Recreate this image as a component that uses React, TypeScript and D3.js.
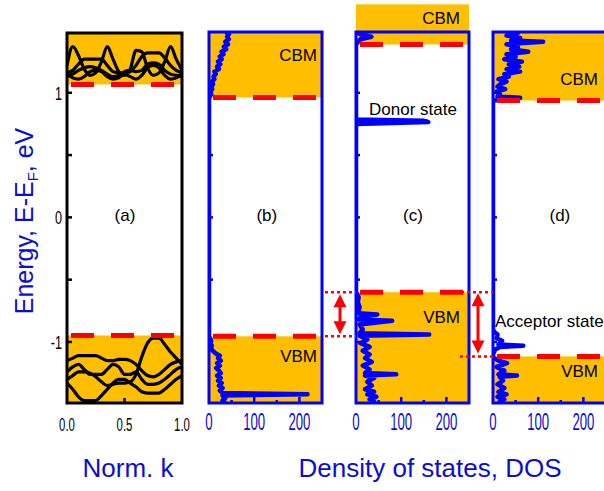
import React from 'react';
import * as d3 from 'd3';

// k samples for the band structure panel (a)
const kPoints = [0, 0.05, 0.1, 0.15, 0.2, 0.25, 0.3, 0.35, 0.4, 0.45, 0.5, 0.55, 0.6, 0.65, 0.7, 0.75, 0.8, 0.85, 0.9, 0.95, 1];

// conduction bands, eV
const condBand1 = [1.22, 1.37, 1.30, 1.19, 1.14, 1.16, 1.25, 1.37, 1.27, 1.17, 1.14, 1.19, 1.34, 1.33, 1.20, 1.14, 1.16, 1.25, 1.37, 1.27, 1.18];
const condBand2 = [1.16, 1.18, 1.23, 1.27, 1.27, 1.27, 1.27, 1.22, 1.17, 1.16, 1.16, 1.17, 1.22, 1.29, 1.32, 1.32, 1.32, 1.28, 1.22, 1.18, 1.16];
const condBand3 = [1.15, 1.12, 1.11, 1.13, 1.17, 1.18, 1.17, 1.13, 1.11, 1.12, 1.15, 1.13, 1.11, 1.14, 1.20, 1.22, 1.20, 1.14, 1.11, 1.12, 1.15];
const condBand4 = [1.13, 1.15, 1.18, 1.20, 1.21, 1.20, 1.18, 1.15, 1.13, 1.14, 1.17, 1.18, 1.17, 1.18, 1.23, 1.24, 1.23, 1.18, 1.15, 1.14, 1.13];

// valence bands, eV
const valBand1 = [-1.15, -1.13, -1.11, -1.11, -1.11, -1.11, -1.13, -1.15, -1.15, -1.14, -1.14, -1.15, -1.18, -1.23, -1.27, -1.28, -1.26, -1.22, -1.18, -1.16, -1.15];
const valBand2 = [-1.30, -1.27, -1.24, -1.24, -1.25, -1.28, -1.32, -1.35, -1.34, -1.33, -1.33, -1.32, -1.26, -1.12, -1.01, -0.97, -0.97, -1.02, -1.08, -1.13, -1.18];
const valBand3 = [-1.24, -1.20, -1.18, -1.22, -1.26, -1.26, -1.26, -1.22, -1.18, -1.20, -1.26, -1.26, -1.24, -1.30, -1.34, -1.34, -1.33, -1.30, -1.26, -1.22, -1.20];
const valBand4 = [-1.33, -1.38, -1.44, -1.47, -1.47, -1.47, -1.43, -1.38, -1.33, -1.30, -1.30, -1.33, -1.36, -1.40, -1.41, -1.41, -1.41, -1.38, -1.34, -1.30, -1.27];

// DOS (b)
const dosBEnergy = [-1.48, -1.47, -1.45, -1.43, -1.42, -1.41, -1.39, -1.37, -1.35, -1.33, -1.31, -1.29, -1.27, -1.25, -1.23, -1.21, -1.19, -1.17, -1.15, -1.13, -1.11, -1.09, -1.07, -1.05, -1.03, -1.01, -0.99, -0.97, -0.95,
  0.95, 0.97, 0.99, 1.01, 1.03, 1.05, 1.07, 1.09, 1.11, 1.13, 1.15, 1.17, 1.19, 1.21, 1.23, 1.25, 1.27, 1.29, 1.31, 1.33, 1.35, 1.37, 1.39, 1.41, 1.43, 1.45, 1.47, 1.48];
const dosBValue = [34, 30, 36, 30, 218, 30, 24, 30, 22, 28, 20, 26, 18, 26, 22, 16, 24, 18, 26, 20, 24, 14, 8, 4, 6, 3, 5, 2, 0,
  0, 2, 5, 3, 7, 5, 9, 7, 12, 10, 15, 12, 22, 18, 25, 20, 28, 24, 32, 28, 38, 33, 42, 36, 44, 40, 44, 40];

// DOS (c)
const dosCEnergy = [-1.48, -1.46, -1.44, -1.42, -1.40, -1.38, -1.35, -1.32, -1.29, -1.27, -1.26, -1.25, -1.22, -1.19, -1.16, -1.13, -1.10, -1.07, -1.04, -1.01, -0.98, -0.95, -0.94, -0.93, -0.90, -0.86, -0.83, -0.82, -0.80, -0.78, -0.77, -0.72, -0.68, -0.64, -0.61, -0.60,
  0.75, 0.765, 0.775, 0.785, 1.39, 1.41, 1.43, 1.45, 1.47, 1.48];
const dosCValue = [40, 30, 45, 25, 40, 20, 35, 25, 40, 20, 89, 20, 30, 15, 35, 20, 30, 15, 30, 10, 25, 8, 162, 8, 15, 8, 80, 6, 10, 47, 5, 8, 4, 6, 2, 0,
  0, 160, 150, 0, 0, 5, 10, 34, 10, 5];

// DOS (d)
const dosDEnergy = [-1.48, -1.46, -1.44, -1.42, -1.40, -1.37, -1.34, -1.31, -1.28, -1.27, -1.26, -1.23, -1.20, -1.17, -1.15, -1.13, -1.12,
  -1.10, -1.06, -1.04, -1.03, -1.02, -0.99, -0.97, -0.94, -0.92, -0.90,
  0.93, 0.94, 0.96, 0.97, 0.99, 1.01, 1.03, 1.05, 1.07, 1.09, 1.11, 1.13, 1.15, 1.17, 1.19, 1.21, 1.23, 1.25, 1.27, 1.29, 1.31, 1.33, 1.35, 1.37, 1.39, 1.41, 1.42, 1.44, 1.46, 1.48];
const dosDValue = [15, 25, 10, 30, 12, 25, 10, 22, 15, 53, 12, 25, 8, 31, 12, 3, 0,
  0, 5, 15, 67, 12, 20, 8, 10, 3, 0,
  0, 5, 60, 10, 15, 8, 27, 10, 16, 30, 12, 35, 25, 60, 30, 58, 35, 64, 25, 50, 30, 78, 40, 55, 30, 111, 40, 60, 30, 55];

// band edges per panel (a, b, c, d), eV
const cbmLevels = [1.067, 0.962, 1.388, 0.938];
const vbmLevels = [-0.948, -0.955, -0.601, -1.116];
const cbFillTop = [1.48, 1.48, 1.71, 1.48];
const panelNames = ['(a)', '(b)', '(c)', '(d)'];

const energyTicks = [-1, -0.5, 0, 0.5, 1];
const energyTickLabels = ['-1', '', '0', '', '1'];
const kTicks = [0, 0.5, 1];
const kTickLabels = ['0.0', '0.5', '1.0'];
const dosTicks = [0, 100, 200];
const dosMinorTicks = [50, 150];

const BLUE = '#0000ff';
const TEXT_BLUE = '#0c0cd2';
const ORANGE = '#ffbf00';
const RED = '#ff0000';
const FONT = '"Liberation Sans", Arial, sans-serif';

const TOP = 33;
const BOTTOM = 403;
const y = d3.scaleLinear().domain([-1.49, 1.48]).range([BOTTOM, TOP]);

function Fills({ i, x0, x1 }: { i: number; x0: number; x1: number }) {
  return (
    <g>
      <rect x={x0} y={y(cbFillTop[i])} width={x1 - x0} height={y(cbmLevels[i]) - y(cbFillTop[i])} fill={ORANGE} />
      <rect x={x0} y={y(vbmLevels[i])} width={x1 - x0} height={BOTTOM - y(vbmLevels[i])} fill={ORANGE} />
    </g>
  );
}

function Dashes({ i, x0, x1 }: { i: number; x0: number; x1: number }) {
  return (
    <g stroke={RED} strokeWidth={5} strokeDasharray="23,17">
      <line x1={x0 + 4} x2={x1} y1={y(cbmLevels[i])} y2={y(cbmLevels[i])} />
      <line x1={x0 + 4} x2={x1} y1={y(vbmLevels[i])} y2={y(vbmLevels[i])} />
    </g>
  );
}

function BandPanel() {
  const x = d3.scaleLinear().domain([0, 1]).range([67, 182]);
  const line = d3.line<number>().x((_, j) => x(kPoints[j])).y(d => y(d)).curve(d3.curveMonotoneX);
  const bands = [condBand1, condBand2, condBand3, condBand4, valBand1, valBand2, valBand3, valBand4];
  return (
    <g>
      <clipPath id="clipA"><rect x={67} y={TOP} width={115} height={BOTTOM - TOP} /></clipPath>
      <Fills i={0} x0={67} x1={182} />
      <g clipPath="url(#clipA)">
        {bands.map((b, j) => (
          <path key={j} d={line(b) || ''} fill="none" stroke="#000" strokeWidth={3.2} />
        ))}
      </g>
      <Dashes i={0} x0={67} x1={182} />
      <rect x={67} y={TOP} width={115} height={BOTTOM - TOP} fill="none" stroke="#000" strokeWidth={3} />
      {energyTicks.map((t, j) => (
        <g key={j}>
          <line x1={67} x2={72} y1={y(t)} y2={y(t)} stroke="#000" strokeWidth={2.5} />
          {energyTickLabels[j] && (
            <text transform={`translate(62,${y(t) + 7}) scale(0.7,1)`} textAnchor="end" fontSize={18} fontFamily={FONT}>{energyTickLabels[j]}</text>
          )}
        </g>
      ))}
      {kTicks.map((t, j) => (
        <g key={j}>
          {t > 0 && t < 1 && <line x1={x(t)} x2={x(t)} y1={BOTTOM} y2={BOTTOM - 5} stroke="#000" strokeWidth={2.5} />}
          <text transform={`translate(${x(t)},431) scale(0.6,1)`} textAnchor="middle" fontSize={19} fontFamily={FONT}>{kTickLabels[j]}</text>
        </g>
      ))}
      <text x={125} y={221} textAnchor="middle" fontSize={17} fontFamily={FONT}>{panelNames[0]}</text>
    </g>
  );
}

function DosPanel({ i, left, energy, value, labelDos }: { i: number; left: number; energy: number[]; value: number[]; labelDos: number }) {
  const x = d3.scaleLinear().domain([0, 250]).range([left, left + 113]);
  const right = x(250);
  const line = d3.line<number>().x(d => x(d)).y((_, j) => y(energy[j]));
  const id = `clipDos${i}`;
  return (
    <g>
      <clipPath id={id}><rect x={left} y={TOP} width={113} height={BOTTOM - TOP} /></clipPath>
      <Fills i={i} x0={left} x1={right} />
      <g clipPath={`url(#${id})`}>
        <path d={line(value) || ''} fill="none" stroke={BLUE} strokeWidth={4.5} strokeLinejoin="round" strokeLinecap="round" />
      </g>
      <Dashes i={i} x0={left} x1={right} />
      <rect x={left} y={TOP - 1} width={113} height={BOTTOM - TOP + 1} fill="none" stroke={BLUE} strokeWidth={3} />
      {energyTicks.map((t, j) => (
        <line key={j} x1={left} x2={left + 4} y1={y(t)} y2={y(t)} stroke={BLUE} strokeWidth={2.5} />
      ))}
      {dosTicks.map(t => (
        <g key={t}>
          {t > 0 && <line x1={x(t)} x2={x(t)} y1={BOTTOM} y2={BOTTOM - 6} stroke={BLUE} strokeWidth={2.5} />}
          <text transform={`translate(${x(t)},430) scale(0.55,1)`} textAnchor="middle" fontSize={24} fill={TEXT_BLUE} fontFamily={FONT}>{t}</text>
        </g>
      ))}
      {dosMinorTicks.map(t => (
        <line key={t} x1={x(t)} x2={x(t)} y1={BOTTOM} y2={BOTTOM - 3} stroke={BLUE} strokeWidth={2.5} />
      ))}
      <text x={x(labelDos)} y={221} textAnchor="middle" fontSize={17} fontFamily={FONT}>{panelNames[i]}</text>
    </g>
  );
}

function Arrow({ x, y1, y2 }: { x: number; y1: number; y2: number }) {
  const h = 13;
  const w = 6.5;
  return (
    <g fill={RED} stroke={RED}>
      <line x1={x} x2={x} y1={y1 + h - 2} y2={y2 - h + 2} strokeWidth={3} />
      <polygon points={`${x},${y1} ${x - w},${y1 + h} ${x + w},${y1 + h}`} stroke="none" />
      <polygon points={`${x},${y2} ${x - w},${y2 - h} ${x + w},${y2 - h}`} stroke="none" />
    </g>
  );
}

export default function App() {
  const yC = y(vbmLevels[2]);
  const yB = y(vbmLevels[1]);
  const yD = y(vbmLevels[3]);
  return (
    <svg width={604} height={491} style={{ position: 'absolute', left: 0, top: 0, background: '#fff' }} fontFamily={FONT}>
      <BandPanel />
      <DosPanel i={1} left={209} energy={dosBEnergy} value={dosBValue} labelDos={128} />
      <DosPanel i={2} left={356} energy={dosCEnergy} value={dosCValue} labelDos={126} />
      <DosPanel i={3} left={493} energy={dosDEnergy} value={dosDValue} labelDos={148} />

      {/* gap annotations */}
      <g stroke={RED} strokeWidth={2.5} strokeDasharray="3,3">
        <line x1={325} x2={356} y1={yC} y2={yC} />
        <line x1={325} x2={356} y1={yB} y2={yB} />
        <line x1={461} x2={493} y1={yC} y2={yC} />
        <line x1={460} x2={493} y1={yD} y2={yD} />
      </g>
      <Arrow x={340} y1={yC + 2} y2={yB - 2} />
      <Arrow x={478} y1={yC + 1} y2={yD - 3} />

      <g fontSize={17} fontFamily={FONT} fill="#000">
        <text x={317} y={61} textAnchor="end">CBM</text>
        <text x={317} y={362} textAnchor="end">VBM</text>
        <text x={460} y={24} textAnchor="end">CBM</text>
        <text x={460} y={323} textAnchor="end">VBM</text>
        <text x={413} y={115} textAnchor="middle">Donor state</text>
        <text x={598} y={85} textAnchor="end">CBM</text>
        <text x={598} y={377} textAnchor="end">VBM</text>
        <text x={495} y={327}>Acceptor state</text>
      </g>

      <text transform="translate(33,221) rotate(-90)" textAnchor="middle" fontSize={25} fill={TEXT_BLUE} fontFamily={FONT}>
        Energy, E-E<tspan fontSize={15} dy={5}>F</tspan><tspan dy={-5}>, eV</tspan>
      </text>
      <text x={128} y={477} textAnchor="middle" fontSize={26} fill={TEXT_BLUE} fontFamily={FONT}>Norm. k</text>
      <text x={430} y={477} textAnchor="middle" fontSize={26} fill={TEXT_BLUE} fontFamily={FONT}>Density of states, DOS</text>
    </svg>
  );
}
